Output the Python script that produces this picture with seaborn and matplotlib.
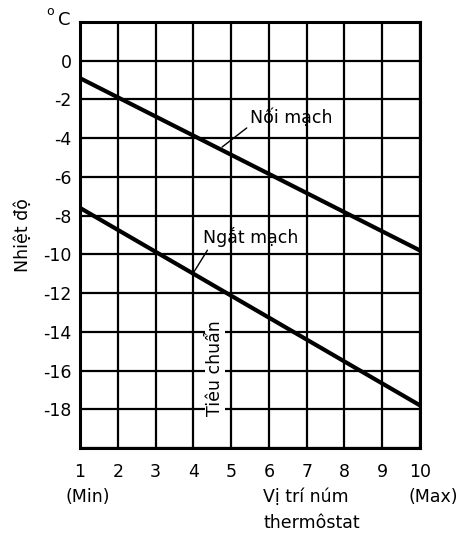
import matplotlib
matplotlib.use("Agg")
import matplotlib.pyplot as plt
import seaborn as sns
import pandas as pd

# Thermostat knob positions and cut-in / cut-out temperatures (°C)
knob = [1, 10]
noi_mach = [-0.9, -9.8]      # cut-in (Nối mạch)
ngat_mach = [-7.6, -17.8]    # cut-out (Ngắt mạch)

x_ticks = list(range(1, 11))
y_grid = list(range(-20, 3, 2))
y_labels = ["" if v in (2, -20) else str(v) for v in y_grid]

sns.set_theme(style="white")
plt.rcParams["font.family"] = ["DejaVu Sans"]
plt.rcParams["text.color"] = "black"
plt.rcParams["axes.labelcolor"] = "black"
plt.rcParams["xtick.color"] = "black"
plt.rcParams["ytick.color"] = "black"

FS = 12.5

df = pd.DataFrame({
    "knob": knob * 2,
    "temp": noi_mach + ngat_mach,
    "curve": ["Nối mạch"] * 2 + ["Ngắt mạch"] * 2,
})

fig = plt.figure(figsize=(4.64, 5.33), dpi=100)
ax = fig.add_axes([0.1724, 0.1595, 0.7328, 0.7992])

sns.lineplot(data=df, x="knob", y="temp", units="curve", estimator=None,
             color="black", linewidth=3.0, legend=False, ax=ax, zorder=3)

ax.set_xlim(1, 10)
ax.set_ylim(-20, 2)
ax.set_xticks(x_ticks)
ax.set_yticks(y_grid)
ax.set_yticklabels(y_labels)
ax.grid(True, color="black", linewidth=1.6)
ax.tick_params(length=0, labelsize=FS, colors="black")
ax.tick_params(axis="x", pad=11)
ax.tick_params(axis="y", pad=6)
for s in ax.spines.values():
    s.set_color("black")
    s.set_linewidth(2.2)
ax.set_xlabel("")
ax.set_ylabel("Nhiệt độ", fontsize=FS, color="black", labelpad=8)

# Curve labels with leader lines
ax.annotate("Nối mạch", xy=(4.76, -4.46), xytext=(5.5, -2.96),
            fontsize=FS, va="center", ha="left",
            arrowprops=dict(arrowstyle="-", color="black", lw=1.0,
                            shrinkA=0, shrinkB=0,
                            relpos=(-0.03, 0.0)))
ax.annotate("Ngắt mạch", xy=(3.99, -10.99), xytext=(4.25, -9.1),
            fontsize=FS, va="center", ha="left",
            arrowprops=dict(arrowstyle="-", color="black", lw=1.0,
                            shrinkA=0, shrinkB=0,
                            relpos=(0.07, 0.0)))

# Standard setting
ax.text(4.57, -15.9, "Tiêu chuẩn", rotation=90, fontsize=FS,
        ha="center", va="center", zorder=4,
        bbox=dict(facecolor="white", edgecolor="none", pad=0.5))

# Unit above the y-axis
fig.text(0.108, 0.978, "o", fontsize=9, ha="center", va="center")
fig.text(0.138, 0.9625, "C", fontsize=13, ha="center", va="center")

# Extra axis annotations
fig.text(0.19, 0.0675, "(Min)", fontsize=FS, ha="center", va="center")
fig.text(0.933, 0.0675, "(Max)", fontsize=FS, ha="center", va="center")
fig.text(0.567, 0.0675, "Vị trí núm", fontsize=FS, ha="left", va="center")
fig.text(0.567, 0.019, "thermôstat", fontsize=FS, ha="left", va="center")

fig.savefig("out.png", dpi=100, facecolor="white")
